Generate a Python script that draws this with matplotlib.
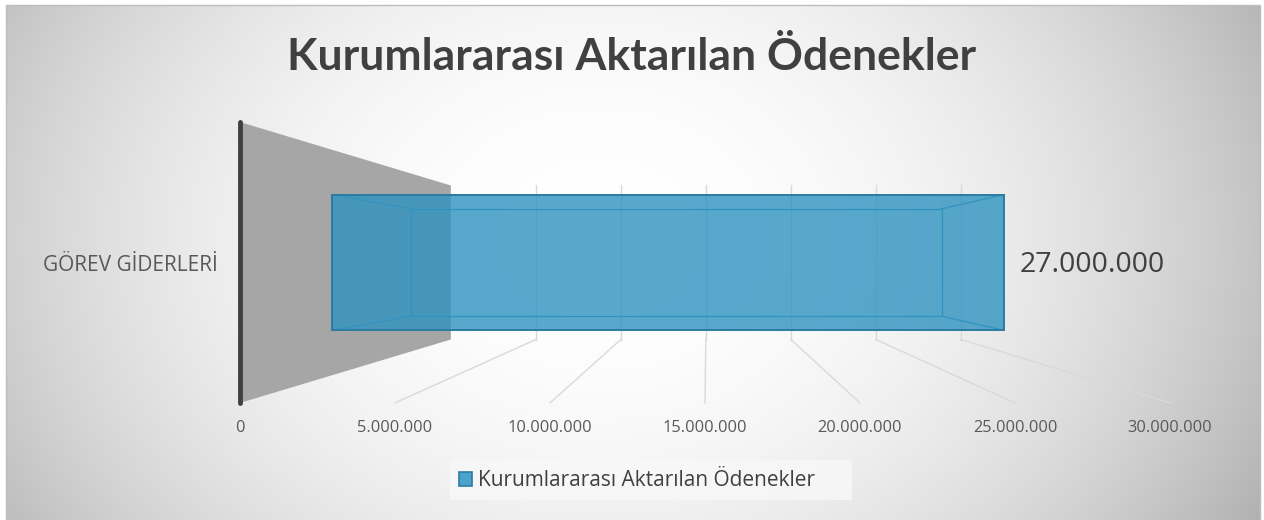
import numpy as np
import matplotlib
matplotlib.use("Agg")
import matplotlib.pyplot as plt
from matplotlib.patches import Polygon, Patch, Rectangle

# ---------------- data ----------------
title = "Kurumlararası Aktarılan Ödenekler"
categories = ["GÖREV GİDERLERİ"]
series_name = "Kurumlararası Aktarılan Ödenekler"
values = [27000000]
value_labels = ["27.000.000"]
tick_values = [0, 5000000, 10000000, 15000000, 20000000, 25000000, 30000000]
tick_labels = ["0", "5.000.000", "10.000.000", "15.000.000",
               "20.000.000", "25.000.000", "30.000.000"]

# ---------------- view / style constants ----------------
W, H = 1264, 520
UNIT = 1e6                 # axis unit (millions)
FRONT_LEFT_PX = 240.0      # where 0 sits on the front edge
FRONT_PX_PER_UNIT = 31.0   # scale on the front plane
CENTER_Y_PX = 262.5        # vertical vanishing line
DEPTH_RATIO = 31.0 / 17.0  # front/back scale ratio (perspective strength)
XC = 15.06                 # horizontal vanishing position (units)
WALL_HALF = 4.53           # half height of the chart box
BAR_HALF = 2.73            # half height of the bar
BAR_Z0, BAR_Z1 = 0.30, 0.70

TEXT = "#404040"
TICK = "#595959"
GRID = "#D9D9D9"
WALL = "#A6A6A6"
BAR_FACE = "#2E93C0"
BAR_EDGE = "#2A7CA3"
BAR_INNER = "#3A94BD"

plt.rcParams['font.family'] = ['Open Sans', 'DejaVu Sans']

fig = plt.figure(figsize=(W / 100, H / 100), dpi=100)

# ---------------- background (radial gradient) ----------------
bg = fig.add_axes([0, 0, 1, 1])
bg.set_axis_off()
yy, xx = np.mgrid[0:H, 0:W] + 0.5
r = np.sqrt(((xx - 600) / 700.0) ** 2 + ((yy - 240) / 550.0) ** 2)
d = 0.264 * np.clip(r, 0, 1.3) ** 2.2
img = np.ones((H, W, 3))
inside = (xx >= 6) & (yy >= 5) & (xx <= 1260)
for c in range(3):
    ch = img[:, :, c]
    ch[inside] = (1 - d)[inside]
bg.imshow(img, extent=(0, W, H, 0), aspect='auto', interpolation='bilinear')
bg.add_patch(Rectangle((6, 5), 1254, 530, fill=False, edgecolor="#BDBDBD", lw=1))
# legend background panel
bg.add_patch(Rectangle((450, 460), 402, 40, facecolor="#F8F8F8", alpha=0.8,
                       edgecolor='none'))
bg.set_xlim(0, W)
bg.set_ylim(H, 0)

# ---------------- chart axes in value units ----------------
ax = fig.add_axes([0, 0, 1, 1])
ax.set_axis_off()
ax.patch.set_alpha(0)
ax.set_xlim(-FRONT_LEFT_PX / FRONT_PX_PER_UNIT, (W - FRONT_LEFT_PX) / FRONT_PX_PER_UNIT)
ax.set_ylim(-(H - CENTER_Y_PX) / FRONT_PX_PER_UNIT, CENTER_Y_PX / FRONT_PX_PER_UNIT)


def k(z):
    return 1.0 / (1.0 + (DEPTH_RATIO - 1.0) * z)


def proj(x, y, z):
    kk = k(z)
    return XC + (x - XC) * kk, y * kk


# gridlines (back wall + floor)
for tv in tick_values[1:]:
    v = tv / UNIT
    p_top = proj(v, WALL_HALF, 1)
    p_bot = proj(v, -WALL_HALF, 1)
    p_front = proj(v, -WALL_HALF, 0)
    ax.plot([p_bot[0], p_top[0]], [p_bot[1], p_top[1]], color=GRID, lw=1, zorder=1)
    ax.plot([p_bot[0], p_front[0]], [p_bot[1], p_front[1]], color=GRID, lw=1, zorder=1)

# side wall (category axis wall)
wall = [proj(0, -WALL_HALF, 0), proj(0, WALL_HALF, 0),
        proj(0, WALL_HALF, 1), proj(0, -WALL_HALF, 1)]
ax.add_patch(Polygon(wall, closed=True, facecolor=WALL, edgecolor='none', zorder=2))
a0, a1 = proj(0, -WALL_HALF, 0), proj(0, WALL_HALF, 0)
ax.plot([a0[0], a1[0]], [a0[1], a1[1]], color=TEXT, lw=3.5, solid_capstyle='round', zorder=6)

# bars
for cat, val, lab in zip(categories, values, value_labels):
    v = val / UNIT
    corners = [(0, -BAR_HALF), (v, -BAR_HALF), (v, BAR_HALF), (0, BAR_HALF)]
    front = [proj(x, y, BAR_Z0) for x, y in corners]
    back = [proj(x, y, BAR_Z1) for x, y in corners]
    ax.add_patch(Polygon(back, closed=True, facecolor='none', edgecolor=BAR_INNER,
                         lw=0.9, zorder=3))
    for pf, pb in zip(front, back):
        ax.plot([pf[0], pb[0]], [pf[1], pb[1]], color=BAR_INNER, lw=0.9, zorder=3)
    ax.add_patch(Polygon(front, closed=True, facecolor=BAR_FACE, alpha=0.8,
                         edgecolor='none', zorder=4))
    ax.add_patch(Polygon(front, closed=True, facecolor='none', edgecolor=BAR_EDGE,
                         lw=1.4, zorder=5))
    # data label
    ax.annotate(lab, xy=proj(v, 0, BAR_Z0), xytext=(16, -3), textcoords='offset pixels',
                ha='left', va='center', fontsize=20.5, color=TEXT, zorder=7)
    # category label
    ax.annotate(cat, xy=proj(0, 0, 0), xytext=(-22, -3), textcoords='offset pixels',
                ha='right', va='center', fontsize=15, color=TICK, zorder=7)

# value-axis tick labels on the front edge
for tv, tl in zip(tick_values, tick_labels):
    ax.annotate(tl, xy=proj(tv / UNIT, -WALL_HALF, 0), xytext=(0, -25),
                textcoords='offset pixels', ha='center', va='center',
                fontsize=11.8, color=TICK, zorder=7)

# title
fig.text(0.5, 1 - 57 / H, title, ha='center', va='center', fontsize=32,
         fontweight='bold', family=['Lato', 'DejaVu Sans'], color=TEXT)

# legend
leg = fig.legend(handles=[Patch(facecolor="#4BA3CB", edgecolor=BAR_EDGE, lw=1.2,
                                label=series_name)],
                 loc='center', bbox_to_anchor=(637 / W, 1 - 481 / H),
                 frameon=False, fontsize=15,
                 handlelength=0.62, handleheight=0.62, handletextpad=0.25,
                 borderpad=0.3, borderaxespad=0, labelcolor=TEXT)

fig.savefig("out.png", dpi=100)
